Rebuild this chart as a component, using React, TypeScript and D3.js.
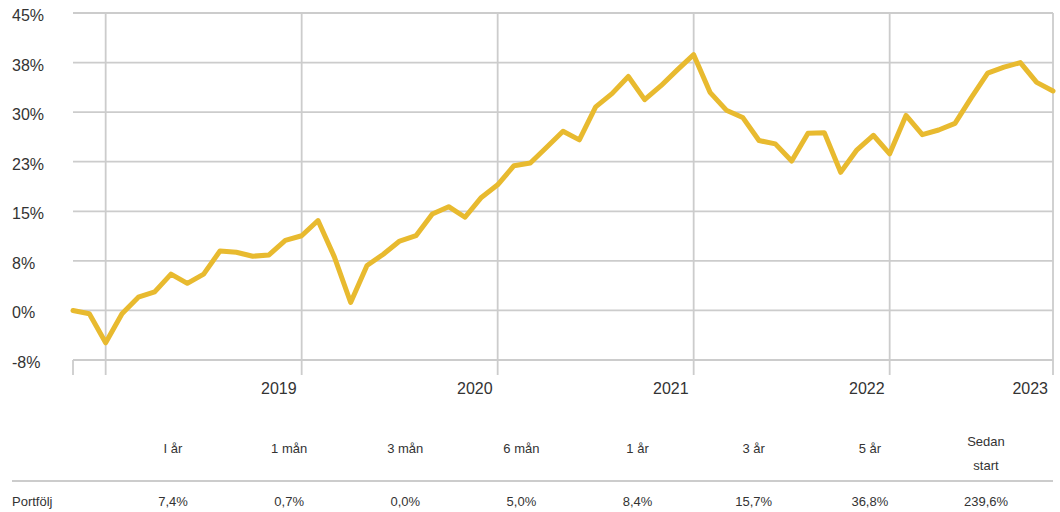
import { useEffect, useRef } from "react";
import * as d3 from "d3";

// monthly portfolio return (%) since start
const returns = [
  0.0, -0.5, -4.9, -0.5, 2.0, 2.8, 5.5, 4.1, 5.5, 9.0, 8.8, 8.2, 8.4, 10.6,
  11.3, 13.6, 8.1, 1.2, 6.8, 8.5, 10.5, 11.3, 14.6, 15.7, 14.1, 17.1, 19.0,
  21.9, 22.3, 24.7, 27.1, 25.8, 30.8, 32.8, 35.4, 31.9, 34.0, 36.4, 38.7,
  33.0, 30.3, 29.2, 25.7, 25.2, 22.6, 26.8, 26.9, 20.9, 24.3, 26.5, 23.7,
  29.5, 26.6, 27.3, 28.3, 32.2, 35.9, 36.8, 37.5, 34.5, 33.2,
];

const yTicks = [-7.5, 0, 7.5, 15, 22.5, 30, 37.5, 45];
const yTickLabels = ["-8%", "0%", "8%", "15%", "23%", "30%", "38%", "45%"];

const xGridIndex = [2, 14, 26, 38, 50, 60];
const xTickIndex = [14, 26, 38, 50, 60];
const xTickLabels = ["2019", "2020", "2021", "2022", "2023"];

const periods = ["I år", "1 mån", "3 mån", "6 mån", "1 år", "3 år", "5 år", "Sedan\nstart"];
const rowLabel = "Portfölj";
const periodValues = ["7,4%", "0,7%", "0,0%", "5,0%", "8,4%", "15,7%", "36,8%", "239,6%"];

const FONT = "'Liberation Sans', Arial, sans-serif";

export default function App() {
  const ref = useRef<SVGSVGElement>(null);

  useEffect(() => {
    const width = 1060, height = 512;
    const left = 73, right = 1053, top = 13, bottom = 360;

    const svg = d3.select(ref.current);
    svg.selectAll("*").remove();
    svg.attr("width", width).attr("height", height);

    const x = d3.scaleLinear().domain([0, returns.length - 1]).range([left, right]);
    const y = d3.scaleLinear().domain([-7.5, 45]).range([bottom, top]);

    const grid = svg.append("g").attr("stroke", "#cccccc").attr("stroke-width", 1.8);

    grid.selectAll("line.h")
      .data(yTicks)
      .join("line")
      .attr("class", "h")
      .attr("x1", left)
      .attr("x2", right)
      .attr("y1", d => y(d))
      .attr("y2", d => y(d));

    grid.selectAll("line.v")
      .data(xGridIndex)
      .join("line")
      .attr("class", "v")
      .attr("x1", d => x(d))
      .attr("x2", d => x(d))
      .attr("y1", top)
      .attr("y2", bottom + 15);

    // left axis tick
    grid.append("line")
      .attr("x1", left).attr("x2", left)
      .attr("y1", bottom).attr("y2", bottom + 15);

    const text = (g: any, s: string, tx: number, ty: number, size: number, anchor: string) =>
      g.append("text")
        .attr("x", tx)
        .attr("y", ty)
        .attr("font-family", FONT)
        .attr("font-size", size)
        .attr("fill", "#333")
        .attr("text-anchor", anchor)
        .text(s);

    const labels = svg.append("g");
    yTicks.forEach((t, i) => text(labels, yTickLabels[i], 12, y(t) + 8, 16, "start"));
    xTickIndex.forEach((t, i) => text(labels, xTickLabels[i], x(t) - 5, 394, 16, "end"));

    const line = d3.line<number>()
      .x((_, i) => x(i))
      .y(d => y(d));

    svg.append("path")
      .datum(returns)
      .attr("fill", "none")
      .attr("stroke", "#e8ba2f")
      .attr("stroke-width", 5)
      .attr("stroke-linejoin", "round")
      .attr("stroke-linecap", "round")
      .attr("d", line);

    // table
    const col = d3.scalePoint().domain(periods).range([173, 986]);
    const table = svg.append("g");
    periods.forEach(p => {
      const parts = p.split("\n");
      if (parts.length === 1) {
        text(table, p, col(p)!, 453, 13, "middle");
      } else {
        text(table, parts[0], col(p)!, 446, 13, "middle");
        text(table, parts[1], col(p)!, 470, 13, "middle");
      }
    });
    table.append("line")
      .attr("x1", 12).attr("x2", right)
      .attr("y1", 481).attr("y2", 481)
      .attr("stroke", "#cccccc").attr("stroke-width", 1.8);
    text(table, rowLabel, 12, 506, 13, "start");
    periodValues.forEach((v, i) => text(table, v, col(periods[i])!, 506, 13, "middle"));
  }, []);

  return (
    <svg ref={ref} style={{ position: "absolute", left: 0, top: 0, display: "block" }} />
  );
}
